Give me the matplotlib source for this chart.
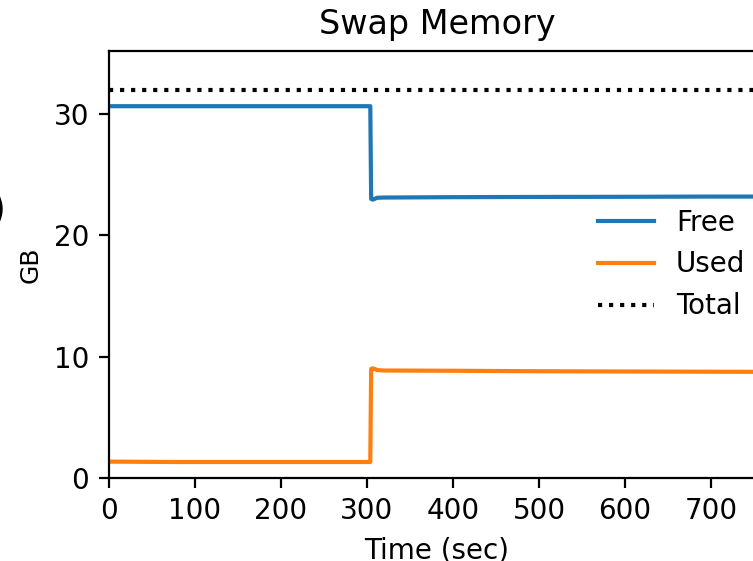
import matplotlib
matplotlib.use("Agg")
import matplotlib.pyplot as plt
import numpy as np

# swap usage (GB vs seconds)
time = [0, 75, 150, 304, 305, 307, 312, 320, 400, 500, 600, 700, 763]
free = [30.65, 30.65, 30.65, 30.65, 23.0, 22.95, 23.1, 23.12, 23.15, 23.17, 23.18, 23.2, 23.2]
used = [1.35, 1.32, 1.32, 1.32, 9.0, 9.04, 8.9, 8.86, 8.84, 8.8, 8.78, 8.76, 8.75]
total = 32.0

fig = plt.figure(figsize=(753 / 200, 561 / 200), dpi=200)
# the panel is cut off on the right, as in the reference
ax = fig.add_axes([108.6 / 753, 83 / 561, 656.8 / 753, 427 / 561])

ax.plot(time, free, color='tab:blue', label='Free')
ax.plot(time, used, color='tab:orange', label='Used')
ax.plot([time[0], time[-1]], [total, total], 'k:', label='Total')

ax.set_xlim(0, time[-1])
ax.set_ylim(0, total * 1.1)
ax.set_xticks([0, 100, 200, 300, 400, 500, 600, 700])
ax.set_yticks([0, 10, 20, 30])
ax.set_title('Swap Memory', fontsize=12)
ax.set_xlabel('Time (sec)', fontsize=10)
ax.set_ylabel('GB', fontsize=9)
ax.legend(loc='center right', frameon=False, fontsize=10, borderaxespad=0.32)

# bits of the neighbouring panel's text at the left edge
fig.text(6 / 753, 1 - 211 / 561, ')', fontsize=15, ha='right', va='center')
fig.text(4 / 753, 1 - 400 / 561, '.', fontsize=15, ha='right', va='baseline')

plt.savefig('out.png', dpi=200)
